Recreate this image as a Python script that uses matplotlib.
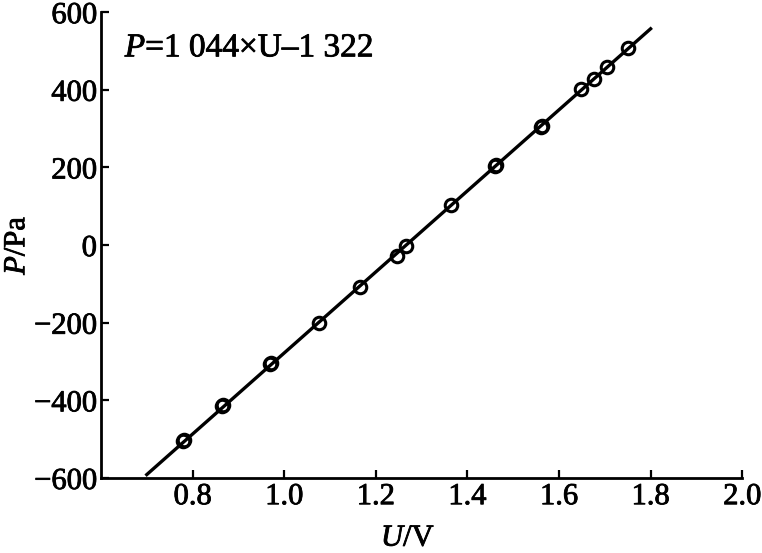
import numpy as np
import matplotlib
matplotlib.use('Agg')
import matplotlib.pyplot as plt
import matplotlib.patheffects as pe

# calibration data
U = [0.78, 0.781, 0.865, 0.867, 0.97, 0.972, 1.075, 1.166, 1.247, 1.267,
     1.365, 1.46, 1.462, 1.56, 1.562, 1.647, 1.677, 1.705, 1.75]
P = [-505, -503, -415, -413, -307, -305, -200, -107, -27, -2,
     103, 205, 207, 305, 307, 402, 428, 460, 508]

# fitted line P = 1044*U - 1322
fit_k = 1044
fit_b = -1322
fit_u = [0.70, 1.80]

plt.rcParams['font.family'] = 'Liberation Serif'
plt.rcParams['mathtext.fontset'] = 'custom'
plt.rcParams['mathtext.rm'] = 'Liberation Serif'
plt.rcParams['mathtext.it'] = 'Liberation Serif:italic'

fig = plt.figure(figsize=(7.62, 5.53), dpi=100)
ax = fig.add_axes([0.1325, 0.1356, 0.8415, 0.8424])

fu = np.array(fit_u)
ax.plot(fu, fit_k * fu + fit_b, color='black', lw=2.4, zorder=2)
ax.plot(U, P, 'o', ms=9, mfc='none', mec='black', mew=2.2, zorder=3)

ax.set_xlim(0.6, 2.0)
ax.set_ylim(-600, 600)
ax.set_xticks([0.8, 1.0, 1.2, 1.4, 1.6, 1.8, 2.0])
ax.set_xticklabels(['0.8', '1.0', '1.2', '1.4', '1.6', '1.8', '2.0'])
ax.set_yticks([-600, -400, -200, 0, 200, 400, 600])
ax.set_yticklabels(['\u2212600', '\u2212400', '\u2212200', '0', '200', '400', '600'])

ax.spines['top'].set_visible(False)
ax.spines['right'].set_visible(False)
ax.spines['left'].set_linewidth(2)
ax.spines['bottom'].set_linewidth(2)
ax.tick_params(direction='in', length=6, width=1.6, labelsize=22, pad=3)

ax.set_xlabel('$U$/V', fontsize=22)
ax.xaxis.set_label_coords(0.479, -0.098)
ax.set_ylabel('$P$/Pa', fontsize=22, labelpad=2)

ax.text(0.652, 507, '$P$=1 044\u00d7U\u20131 322', fontsize=24, va='center', ha='left')

# scanned print looks a bit heavier
heavy = [pe.withStroke(linewidth=0.6, foreground='black')]
for t in ax.get_xticklabels() + ax.get_yticklabels() + ax.texts + [ax.xaxis.label, ax.yaxis.label]:
    t.set_path_effects(heavy)

plt.savefig('out.png', dpi=100)
